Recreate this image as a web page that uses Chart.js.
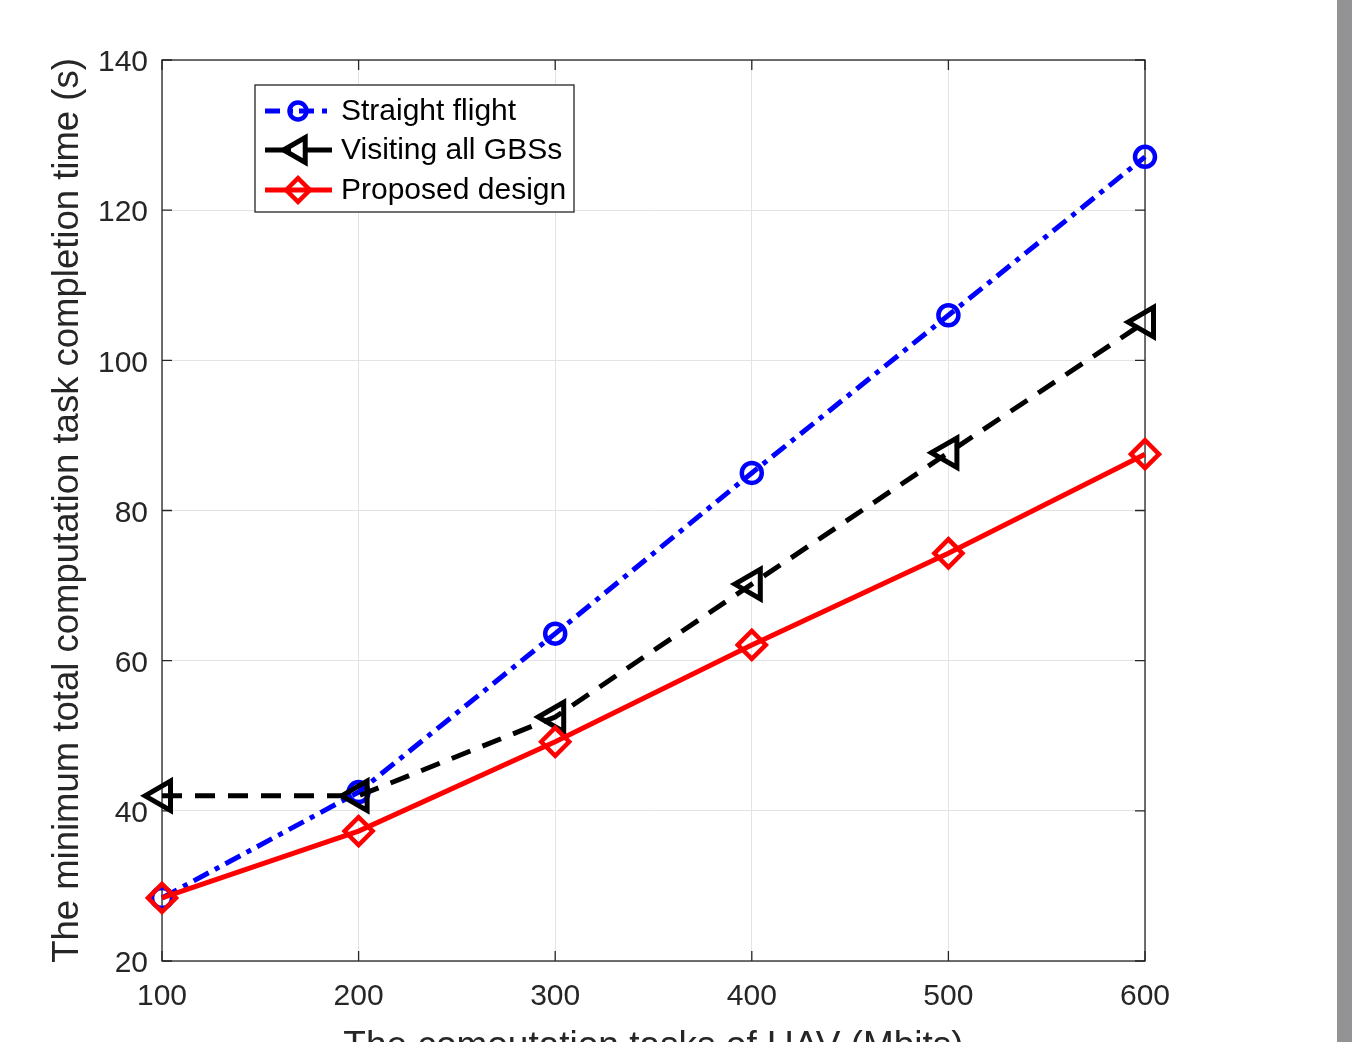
<!DOCTYPE html>
<html>
<head>
<meta charset="utf-8">
<script src="https://cdn.jsdelivr.net/npm/chart.js@4.4.0/dist/chart.umd.min.js"></script>
<style>
  html, body { margin: 0; padding: 0; background: #fff; overflow: hidden; }
  #wrap { position: relative; width: 1360px; height: 1080px; }
  #bar { position: absolute; left: 1337px; top: 0; width: 15px; height: 1042px; background: #939396; }
</style>
</head>
<body>
<div id="wrap">
  <canvas id="grafico" width="1360" height="1080"></canvas>
  <div id="bar"></div>
</div>
<script>
// dados
const tarefas = [100, 200, 300, 400, 500, 600];
const vooReto = [28.4, 42.5, 63.6, 85.0, 106.0, 127.1];
const visitandoGBS = [42.0, 42.0, 52.5, 70.2, 87.7, 105.1];
const projetoProposto = [28.4, 37.3, 49.2, 62.1, 74.3, 87.5];
const nomesSeries = ['Straight flight', 'Visiting all GBSs', 'Proposed design'];
const ticksX = [100, 200, 300, 400, 500, 600];
const ticksY = [20, 40, 60, 80, 100, 120, 140];

const corTexto = '#262626';
const fonte = 'Liberation Sans, Arial, Helvetica, sans-serif';

function pontos(valores) {
    return tarefas.map((x, i) => ({ x: x, y: valores[i] }));
}

// caixa + marcas internas estilo MATLAB
const caixaPlugin = {
    id: 'caixa',
    beforeDatasetsDraw(chart) {
        const { ctx, chartArea: a, scales } = chart;
        ctx.save();
        ctx.strokeStyle = corTexto;
        ctx.lineWidth = 1.3;
        ctx.strokeRect(a.left, a.top, a.right - a.left, a.bottom - a.top);
        const tam = 10;
        ctx.beginPath();
        ticksX.forEach(v => {
            const px = scales.x.getPixelForValue(v);
            ctx.moveTo(px, a.bottom); ctx.lineTo(px, a.bottom - tam);
            ctx.moveTo(px, a.top); ctx.lineTo(px, a.top + tam);
        });
        ticksY.forEach(v => {
            const py = scales.y.getPixelForValue(v);
            ctx.moveTo(a.left, py); ctx.lineTo(a.left + tam, py);
            ctx.moveTo(a.right, py); ctx.lineTo(a.right - tam, py);
        });
        ctx.stroke();
        ctx.restore();
    },
    afterDraw(chart) {
        // legenda no canto superior esquerdo
        const { ctx } = chart;
        const x0 = 255, y0 = 85, w = 319, h = 127;
        ctx.save();
        ctx.fillStyle = '#fff';
        ctx.fillRect(x0, y0, w, h);
        ctx.strokeStyle = corTexto;
        ctx.lineWidth = 1.3;
        ctx.strokeRect(x0, y0, w, h);
        const linhas = [111, 150, 190];
        const tracosLegenda = [[15, 8, 5, 6], [26, 15], []];
        chart.data.datasets.forEach((ds, i) => {
            const y = linhas[i];
            ctx.save();
            ctx.strokeStyle = ds.borderColor;
            ctx.lineWidth = ds.borderWidth;
            ctx.setLineDash(tracosLegenda[i]);
            ctx.beginPath();
            ctx.moveTo(265, y);
            ctx.lineTo(332, y);
            ctx.stroke();
            ctx.restore();
            ctx.save();
            ctx.strokeStyle = ds.pointBorderColor;
            ctx.fillStyle = 'rgba(0,0,0,0)';
            ctx.lineWidth = ds.pointBorderWidth;
            Chart.helpers.drawPoint(ctx, {
                pointStyle: ds.pointStyle,
                radius: ds.pointRadius * 0.85,
                rotation: ds.rotation || 0,
                borderWidth: ds.pointBorderWidth
            }, 298, y);
            ctx.restore();
            ctx.fillStyle = '#000';
            ctx.font = '30px ' + fonte;
            ctx.textBaseline = 'middle';
            ctx.textAlign = 'left';
            ctx.fillText(ds.label, 341, y + 1);
        });
        ctx.restore();
    }
};

new Chart(document.getElementById('grafico').getContext('2d'), {
    type: 'line',
    data: {
        datasets: [
            {
                label: nomesSeries[0],
                data: pontos(vooReto),
                borderColor: '#0000ff',
                borderWidth: 5,
                borderDash: [17, 7, 5, 7],
                pointStyle: 'circle',
                pointRadius: 10,
                pointBorderWidth: 4.5,
                pointBorderColor: '#0000ff',
                pointBackgroundColor: 'rgba(0,0,0,0)',
                fill: false,
                clip: false,
                order: 3
            },
            {
                label: nomesSeries[1],
                data: pontos(visitandoGBS),
                borderColor: '#000000',
                borderWidth: 5,
                borderDash: [20, 13],
                pointStyle: 'triangle',
                rotation: -90,
                pointRadius: 17,
                pointBorderWidth: 5,
                pointBorderColor: '#000000',
                pointBackgroundColor: 'rgba(0,0,0,0)',
                fill: false,
                clip: false,
                order: 2
            },
            {
                label: nomesSeries[2],
                data: pontos(projetoProposto),
                borderColor: '#ff0000',
                borderWidth: 5,
                pointStyle: 'rectRot',
                pointRadius: 14,
                pointBorderWidth: 4.5,
                pointBorderColor: '#ff0000',
                pointBackgroundColor: 'rgba(0,0,0,0)',
                fill: false,
                clip: false,
                order: 1
            }
        ]
    },
    options: {
        responsive: false,
        animation: false,
        layout: { padding: { left: 0, right: 215, top: 60, bottom: 0 } },
        plugins: { legend: { display: false }, tooltip: { enabled: false } },
        scales: {
            x: {
                type: 'linear',
                min: 100, max: 600,
                afterFit: s => { s.height = 119; },
                afterBuildTicks: s => { s.ticks = ticksX.map(v => ({ value: v })); },
                grid: { color: '#e3e3e3', lineWidth: 1, drawTicks: false },
                border: { display: false },
                ticks: { color: corTexto, padding: 18, maxRotation: 0, font: { size: 30, family: fonte } },
                title: {
                    display: true,
                    text: 'The comoutation tasks of UAV (Mbits)',
                    color: corTexto,
                    font: { size: 37, family: fonte },
                    padding: { top: 0, bottom: 11 }
                }
            },
            y: {
                type: 'linear',
                min: 20, max: 140,
                afterFit: s => { s.width = 162; },
                afterBuildTicks: s => { s.ticks = ticksY.map(v => ({ value: v })); },
                grid: { color: '#e3e3e3', lineWidth: 1, drawTicks: false },
                border: { display: false },
                ticks: { color: corTexto, padding: 14, labelOffset: 3, font: { size: 30, family: fonte } },
                title: {
                    display: true,
                    text: 'The minimum total computation task completion time (s)',
                    color: corTexto,
                    font: { size: 36.5, family: fonte },
                    padding: { top: 46, bottom: 0 }
                }
            }
        }
    },
    plugins: [caixaPlugin]
});
</script>
</body>
</html>
